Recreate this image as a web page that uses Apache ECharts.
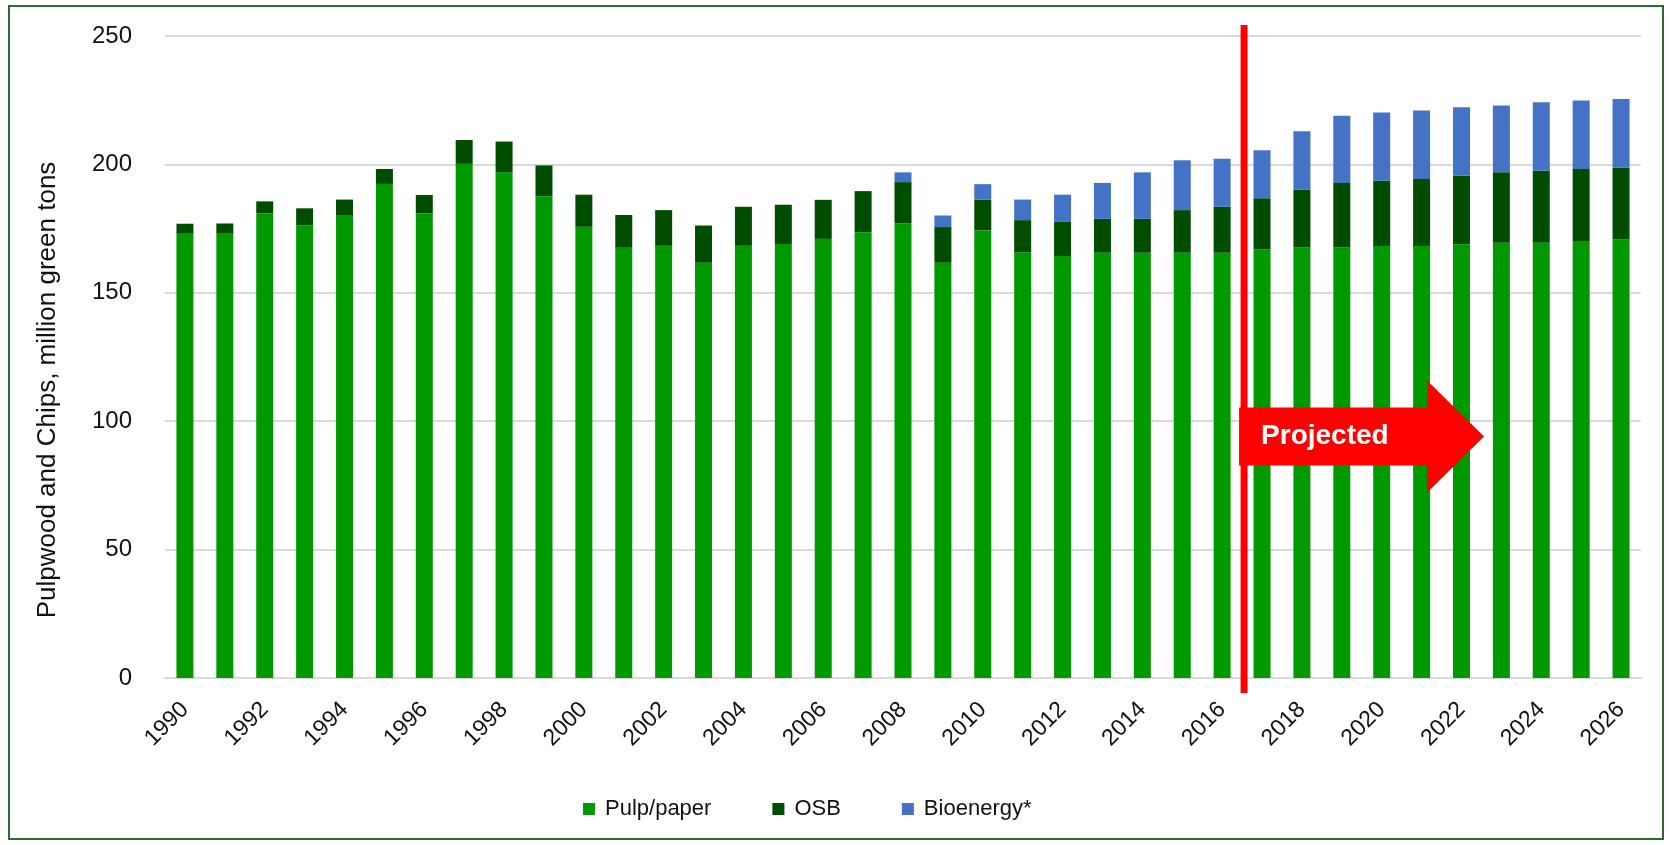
<!DOCTYPE html>
<html>
<head>
<meta charset="utf-8">
<title>Pulpwood and Chips</title>
<script src="https://cdn.jsdelivr.net/npm/echarts@6/dist/echarts.min.js"></script>
<style>
  html, body { margin: 0; padding: 0; background: #fff; }
  #chart { width: 1673px; height: 845px; }
</style>
</head>
<body>
<div id="chart"></div>
<script>
// years on the x axis, 2017 onwards are projections
const years = [
  "1990", "1991", "1992", "1993", "1994", "1995", "1996", "1997", "1998", "1999",
  "2000", "2001", "2002", "2003", "2004", "2005", "2006", "2007", "2008", "2009",
  "2010", "2011", "2012", "2013", "2014", "2015", "2016", "2017", "2018", "2019",
  "2020", "2021", "2022", "2023", "2024", "2025", "2026",
];

// million green tons
const pulpPaper = [
  173.0, 173.0, 181.0, 176.3, 180.3, 192.4, 181.0, 200.2, 196.9, 187.6,
  175.7, 167.8, 168.3, 161.7, 168.3, 169.0, 171.0, 173.6, 177.0, 161.7,
  174.3, 165.7, 164.3, 165.6, 165.6, 165.6, 165.6, 166.9, 167.6, 167.6,
  168.2, 168.2, 168.9, 169.5, 169.5, 170.2, 170.8,
];
const osb = [
  3.9, 4.0, 4.6, 6.6, 6.0, 5.8, 7.1, 9.3, 12.0, 12.0,
  12.5, 12.5, 13.9, 14.5, 15.2, 15.3, 15.2, 16.0, 16.1, 13.9,
  12.0, 12.6, 13.3, 13.2, 13.2, 16.6, 18.0, 19.9, 22.6, 25.2,
  25.4, 26.1, 26.7, 27.4, 28.0, 28.0, 28.0,
];
const bioenergy = [
  0, 0, 0, 0, 0, 0, 0, 0, 0, 0,
  0, 0, 0, 0, 0, 0, 0, 0, 3.8, 4.5,
  6.0, 8.0, 10.6, 14.0, 18.1, 19.4, 18.6, 18.7, 22.7, 26.1,
  26.6, 26.7, 26.7, 26.0, 26.7, 26.7, 26.7,
];

const yAxisTitle = "Pulpwood and Chips, million green tons";
const lastActualYear = "2016";
const firstProjectedYear = "2017";
const arrowLevel = 94; // value on the y axis where the arrow sits

const mainFont = "'Liberation Sans', Arial, sans-serif";

const chart = echarts.init(document.getElementById("chart"));

chart.setOption({
  animation: false,
  backgroundColor: "#ffffff",
  textStyle: { fontFamily: mainFont },
  grid: {
    left: 165,
    right: 32,
    top: 36,
    bottom: 167,
  },
  legend: {
    left: 578,
    top: 793,
    itemWidth: 12,
    itemHeight: 12,
    itemGap: 61,
    icon: "rect",
    textStyle: {
      fontFamily: mainFont,
      fontSize: 22,
      color: "#111",
      padding: [0, 0, 0, 5],
    },
    data: ["Pulp/paper", "OSB", "Bioenergy*"],
  },
  xAxis: {
    type: "category",
    data: years,
    axisTick: { show: false },
    axisLine: { show: true, lineStyle: { color: "#d9d9d9", width: 2 } },
    axisLabel: {
      interval: 1,
      rotate: 45,
      margin: 28,
      fontFamily: mainFont,
      fontSize: 23,
      color: "#111",
    },
  },
  yAxis: {
    type: "value",
    min: 0,
    max: 250,
    interval: 50,
    axisLabel: {
      margin: 33,
      fontFamily: mainFont,
      fontSize: 24,
      color: "#111",
    },
    splitLine: { lineStyle: { color: "#d9d9d9", width: 2 } },
  },
  series: [
    {
      name: "Pulp/paper",
      type: "bar",
      stack: "total",
      barWidth: 17,
      itemStyle: { color: "#009900" },
      data: pulpPaper,
    },
    {
      name: "OSB",
      type: "bar",
      stack: "total",
      barWidth: 17,
      itemStyle: { color: "#004d00" },
      data: osb,
    },
    {
      name: "Bioenergy*",
      type: "bar",
      stack: "total",
      barWidth: 17,
      itemStyle: { color: "#4472c4" },
      data: bioenergy,
    },
  ],
});

// Red divider between actual and projected years, plus the "Projected" arrow
const xLast = chart.convertToPixel({ xAxisIndex: 0 }, lastActualYear);
const xFirst = chart.convertToPixel({ xAxisIndex: 0 }, firstProjectedYear);
const xSplit = (xLast + xFirst) / 2 + 2;
const yArrow = chart.convertToPixel({ yAxisIndex: 0 }, arrowLevel);

chart.setOption({
  graphic: [
    {
      // frame round the whole picture
      type: "rect",
      z: 0,
      shape: { x: 9, y: 6, width: 1654, height: 833 },
      style: { fill: null, stroke: "#2f6b2f", lineWidth: 2 },
    },
    {
      // y axis title, sits a bit below the middle of the plot like the original
      type: "text",
      x: 48,
      y: 390,
      rotation: Math.PI / 2,
      style: {
        text: yAxisTitle,
        fill: "#111",
        font: "26px " + mainFont,
        align: "center",
        verticalAlign: "middle",
      },
    },
    {
      type: "line",
      z: 100,
      shape: { x1: xSplit, y1: 25, x2: xSplit, y2: 693 },
      style: { stroke: "#ff0000", lineWidth: 7 },
    },
    {
      type: "polygon",
      z: 101,
      shape: {
        points: [
          [xSplit - 5, yArrow - 29],
          [xSplit + 183, yArrow - 29],
          [xSplit + 183, yArrow - 56],
          [xSplit + 240, yArrow],
          [xSplit + 183, yArrow + 56],
          [xSplit + 183, yArrow + 29],
          [xSplit - 5, yArrow + 29],
        ],
      },
      style: { fill: "#ff0000" },
    },
    {
      type: "text",
      z: 102,
      x: xSplit + 17,
      y: yArrow,
      style: {
        text: "Projected",
        fill: "#ffffff",
        font: "bold 28px " + mainFont,
        verticalAlign: "middle",
      },
    },
  ],
});

window.addEventListener("resize", () => chart.resize());
</script>
</body>
</html>
